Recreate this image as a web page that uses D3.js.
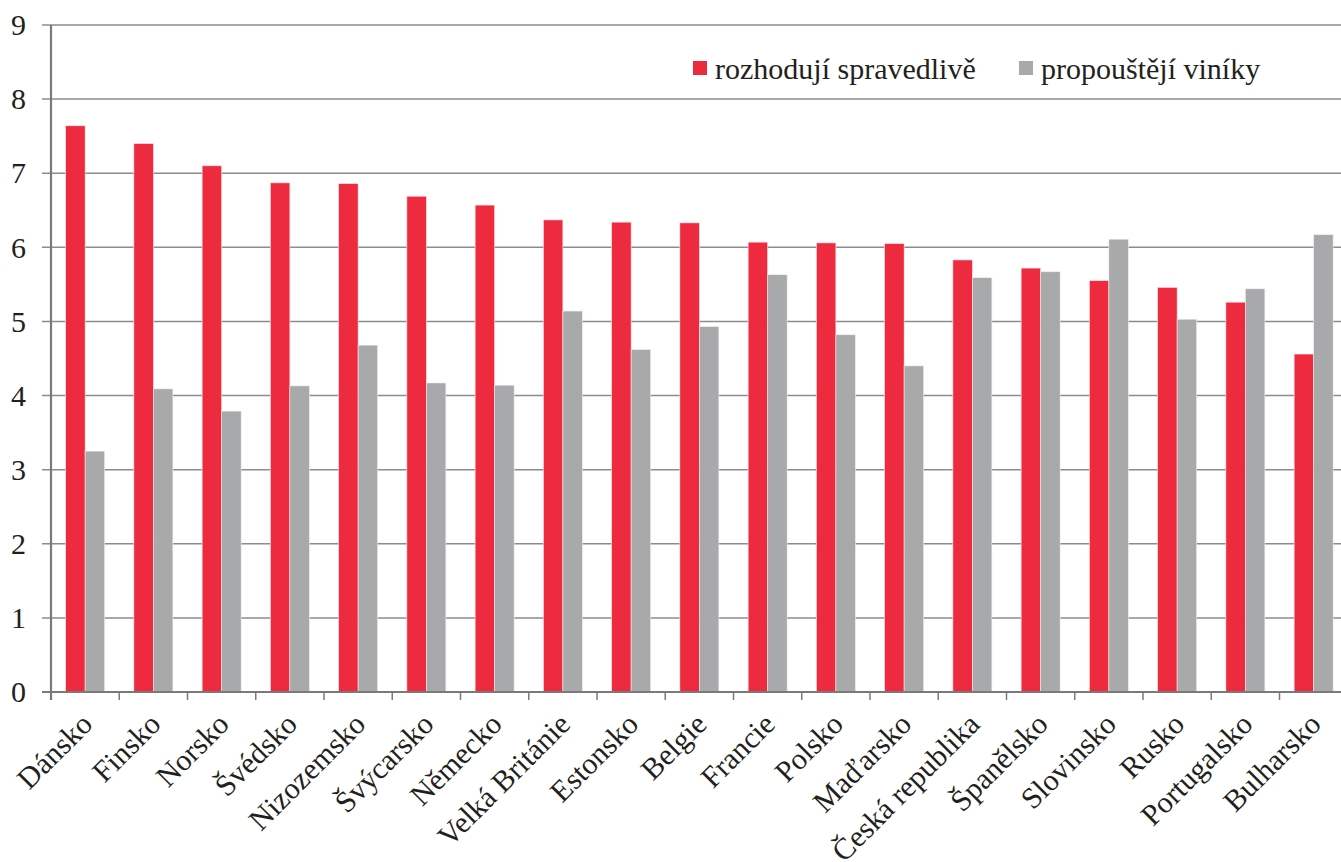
<!DOCTYPE html>
<html><head><meta charset="utf-8">
<script src="https://cdn.jsdelivr.net/npm/d3@7"></script>
<style>
html,body{margin:0;padding:0;background:#fff;}
text{font-family:"Liberation Serif","Times New Roman","DejaVu Serif",serif;}
</style></head>
<body>
<svg id="c" width="1341" height="862"></svg>
<script>
const categories = ["Dánsko","Finsko","Norsko","Švédsko","Nizozemsko","Švýcarsko","Německo","Velká Británie","Estonsko","Belgie","Francie","Polsko","Maďarsko","Česká republika","Španělsko","Slovinsko","Rusko","Portugalsko","Bulharsko"];
const fairValues = [7.64,7.40,7.10,6.87,6.86,6.69,6.57,6.37,6.34,6.33,6.07,6.06,6.05,5.83,5.72,5.55,5.46,5.26,4.56];
const releaseValues = [3.25,4.09,3.79,4.13,4.68,4.17,4.14,5.14,4.62,4.93,5.63,4.82,4.40,5.59,5.67,6.11,5.03,5.44,6.17];
const seriesNames = ["rozhodují spravedlivě","propouštějí viníky"];
const seriesColors = ["#ee2b3e","#a7a9aa"];
const yTicks = [0,1,2,3,4,5,6,7,8,9];

(function(){
const FONT = "'Liberation Serif', 'Times New Roman', 'DejaVu Serif', serif";
const svg = d3.select("#c");
const mL = 51, mT = 25, mB = 692, mR = 51 + 19*68.25;

const x = d3.scaleBand().domain(categories).range([mL, mR]).padding(0);
const xs = d3.scaleBand().domain([0,1]).range([0, x.bandwidth()]).paddingInner(0).paddingOuter(0.75);
const y = d3.scaleLinear().domain([0,9]).range([mB, mT]);

svg.append("g").selectAll("line").data(yTicks).join("line")
  .attr("x1", mL-9).attr("x2", 1341).attr("y1", d=>y(d)).attr("y2", d=>y(d))
  .attr("stroke", "#8c8c8c").attr("stroke-width", 1.5);

svg.append("g").selectAll("text").data(yTicks).join("text")
  .attr("x", 26).attr("y", d=>y(d)).attr("dy", "0.34em")
  .attr("text-anchor","end").attr("font-size", 30).attr("font-family", FONT).attr("fill","#231f20")
  .text(d=>d);

const data = categories.map((c,i)=>({c, v:[fairValues[i], releaseValues[i]]}));
const g = svg.append("g");
data.forEach(d=>{
  d.v.forEach((v,k)=>{
    g.append("rect")
      .attr("x", x(d.c)+xs(k)).attr("width", xs.bandwidth())
      .attr("y", y(v)).attr("height", y(0)-y(v))
      .attr("fill", seriesColors[k])
      .attr("stroke", "#fbe9ea").attr("stroke-width", 0.6);
  });
});

svg.append("line").attr("x1", mL).attr("x2", mL).attr("y1", mT).attr("y2", mB+8)
  .attr("stroke","#7a7a7a").attr("stroke-width",2.2);
svg.append("line").attr("x1", mL-9).attr("x2", 1341).attr("y1", mB).attr("y2", mB)
  .attr("stroke","#7a7a7a").attr("stroke-width",2.2);
svg.append("g").selectAll("line").data(categories.slice(1)).join("line")
  .attr("x1", d=>x(d)).attr("x2", d=>x(d)).attr("y1", mB).attr("y2", mB+8)
  .attr("stroke","#7a7a7a").attr("stroke-width",1.5);

svg.append("g").selectAll("text").data(categories).join("text")
  .attr("transform", d=>`translate(${x(d)+x.bandwidth()/2+9},${mB+34}) rotate(-45)`)
  .attr("text-anchor","end").attr("font-size", 30).attr("font-family", FONT).attr("fill","#231f20")
  .text(d=>d);

const leg = svg.append("g");
const legX = [693, 1019];
seriesNames.forEach((n,k)=>{
  leg.append("rect").attr("x", legX[k]).attr("y", 61).attr("width", 14).attr("height", 14).attr("fill", seriesColors[k]);
  leg.append("text").attr("x", legX[k]+22).attr("y", 79).attr("font-size", 30).attr("font-family", FONT).attr("fill","#231f20").text(n);
});
})();
</script>
</body></html>
